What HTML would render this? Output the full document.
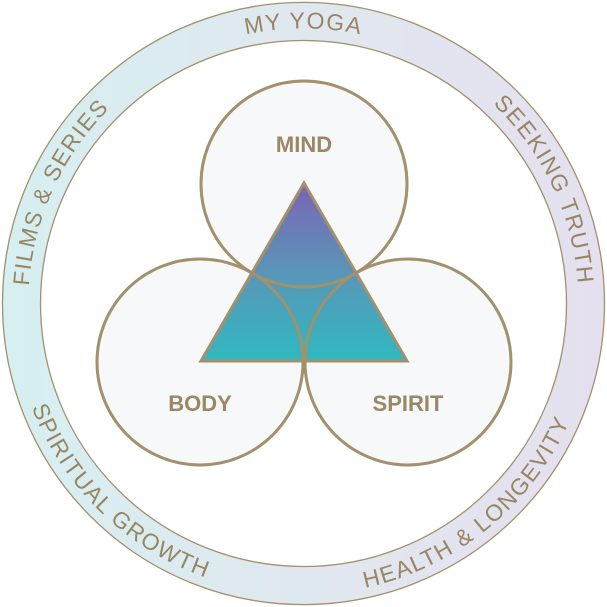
<!DOCTYPE html>
<html><head><meta charset="utf-8"><style>
html,body{margin:0;padding:0;background:#fff;width:607px;height:607px;overflow:hidden}
svg{display:block}
</style></head><body>
<svg width="607" height="607" viewBox="0 0 607 607" xmlns="http://www.w3.org/2000/svg">
<defs>
<linearGradient id="ring" x1="0" y1="0" x2="1" y2="0">
<stop offset="0" stop-color="#d6eff1"/>
<stop offset="0.5" stop-color="#e0e8ef"/>
<stop offset="1" stop-color="#e5e0ef"/>
</linearGradient>
<linearGradient id="tri" x1="0" y1="0" x2="0" y2="1">
<stop offset="0" stop-color="#7a64b4"/>
<stop offset="0.5" stop-color="#5a95b8"/>
<stop offset="1" stop-color="#30b9c1"/>
</linearGradient>
<path id="cw" d="M 28.5 303.5 A 275 275 0 1 1 578.5 303.5 A 275 275 0 1 1 28.5 303.5"/>
<path id="ccw" d="M 12.5 303.5 A 291 291 0 1 0 594.5 303.5 A 291 291 0 1 0 12.5 303.5"/>
</defs>
<path fill-rule="evenodd" fill="url(#ring)" stroke="#a3906c" stroke-width="1.3"
 d="M 2.5 303.5 A 301 301 0 1 1 604.5 303.5 A 301 301 0 1 1 2.5 303.5 Z M 40.5 303.5 A 263 263 0 1 0 566.5 303.5 A 263 263 0 1 0 40.5 303.5 Z"/>
<g font-family="Liberation Sans, sans-serif" font-size="23" fill="#978664" letter-spacing="1.4">
<text text-anchor="middle"><textPath href="#cw" startOffset="25%">MY YOGA</textPath></text>
<text text-anchor="middle"><textPath href="#cw" startOffset="43%">SEEKING TRUTH</textPath></text>
<text text-anchor="middle"><textPath href="#cw" startOffset="6.8%">FILMS &amp; SERIES</textPath></text>
<text text-anchor="middle"><textPath href="#ccw" startOffset="12.7%">SPIRITUAL GROWTH</textPath></text>
<text text-anchor="middle"><textPath href="#ccw" startOffset="35.9%">HEALTH &amp; LONGEVITY</textPath></text>
</g>
<g fill="#f6f8f9">
<circle cx="304" cy="184" r="103"/>
<circle cx="200" cy="362" r="103"/>
<circle cx="408" cy="362" r="103"/>
</g>
<polygon points="304,183 201,361 407,361" fill="url(#tri)" stroke="#a3906c" stroke-width="3" stroke-linejoin="miter"/>
<g fill="none" stroke="#a3906c" stroke-width="3">
<circle cx="304" cy="184" r="103"/>
<circle cx="200" cy="362" r="103"/>
<circle cx="408" cy="362" r="103"/>
</g>
<g font-family="Liberation Sans, sans-serif" font-weight="bold" font-size="22" fill="#9a8763" text-anchor="middle">
<text x="304" y="152">MIND</text>
<text x="200" y="411">BODY</text>
<text x="408" y="411">SPIRIT</text>
</g>
</svg>
</body></html>
